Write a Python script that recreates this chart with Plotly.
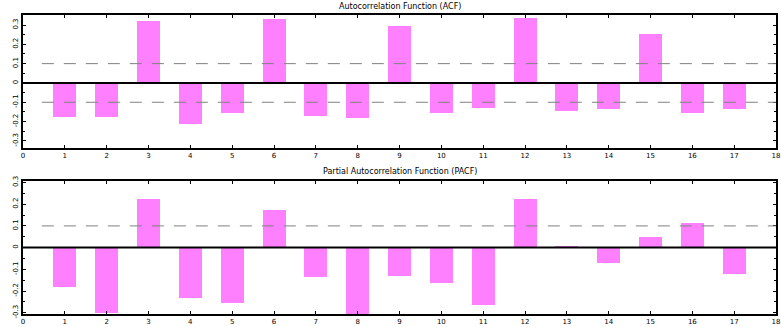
import plotly.graph_objects as go

# Lags and correlation estimates
lags = list(range(1, 18))
acf_vals = [-0.178, -0.178, 0.321, -0.211, -0.157, 0.330, -0.171, -0.183, 0.295,
            -0.157, -0.131, 0.335, -0.144, -0.136, 0.254, -0.157, -0.136]
pacf_vals = [-0.180, -0.300, 0.224, -0.233, -0.253, 0.174, -0.134, -0.305, -0.129,
             -0.164, -0.265, 0.224, 0.005, -0.069, 0.048, 0.114, -0.123]
conf_bound = 0.1

x_ticks = list(range(0, 19))
y_ticks = [-0.3, -0.2, -0.1, 0, 0.1, 0.2, 0.3]
y_tick_labels = ["-0.3", "-0.2", "-0.1", "0", "0.1", "0.2", "0.3"]

acf_title = "Autocorrelation Function (ACF)"
pacf_title = "Partial Autocorrelation Function (PACF)"

bar_color = "#FF80FF"
dash_color = "#808080"

fig = go.Figure()

fig.add_trace(go.Bar(x=lags, y=acf_vals, width=0.55, marker=dict(color=bar_color, line=dict(width=0)),
                     xaxis="x", yaxis="y", showlegend=False))
fig.add_trace(go.Bar(x=lags, y=pacf_vals, width=0.55, marker=dict(color=bar_color, line=dict(width=0)),
                     xaxis="x2", yaxis="y2", showlegend=False))

# zero lines and confidence bounds
for xa, ya, bounds in [("x", "y", [conf_bound, -conf_bound]), ("x2", "y2", [conf_bound])]:
    fig.add_shape(type="line", xref=xa, yref=ya, x0=0, x1=18, y0=0, y1=0,
                  line=dict(color="black", width=2))
    for b in bounds:
        fig.add_shape(type="line", xref=xa, yref=ya, x0=0.45, x1=18, y0=b, y1=b,
                      line=dict(color=dash_color, width=1, dash="12px,10px"))

axis_common = dict(
    showline=True, linecolor="black", linewidth=2, mirror="allticks",
    ticks="inside", ticklen=3, tickcolor="black", showgrid=False, zeroline=False,
    ticklabeloverflow="allow",
    tickfont=dict(family="DejaVu Sans", size=7, color="black"),
)

x_common = dict(axis_common, range=[0, 18], tickvals=x_ticks, ticktext=[str(t) for t in x_ticks])
y_common = dict(axis_common, tickvals=y_ticks, ticktext=y_tick_labels, tickangle=-90,
                minor=dict(ticks="inside", dtick=0.05, ticklen=2, tickcolor="black"))

fig.update_layout(
    width=781, height=327,
    margin=dict(l=23, r=1, t=15, b=13),
    paper_bgcolor="white", plot_bgcolor="white",
    bargap=0,
    xaxis=dict(x_common, domain=[0, 1], anchor="y"),
    yaxis=dict(y_common, domain=[0.5552, 1], range=[-0.337, 0.352], anchor="x"),
    xaxis2=dict(x_common, domain=[0, 1], anchor="y2"),
    yaxis2=dict(y_common, domain=[0, 0.4448], range=[-0.306, 0.307], anchor="x2"),
    annotations=[
        dict(text=acf_title, x=0.5, y=1, xref="paper", yref="paper", xanchor="center",
             yanchor="bottom", yshift=2, showarrow=False,
             font=dict(family="DejaVu Sans", size=8, color="black")),
        dict(text=pacf_title, x=0.5, y=0.4448, xref="paper", yref="paper", xanchor="center",
             yanchor="bottom", yshift=3, showarrow=False,
             font=dict(family="DejaVu Sans", size=8, color="black")),
    ],
)

fig.write_html("out.html")
